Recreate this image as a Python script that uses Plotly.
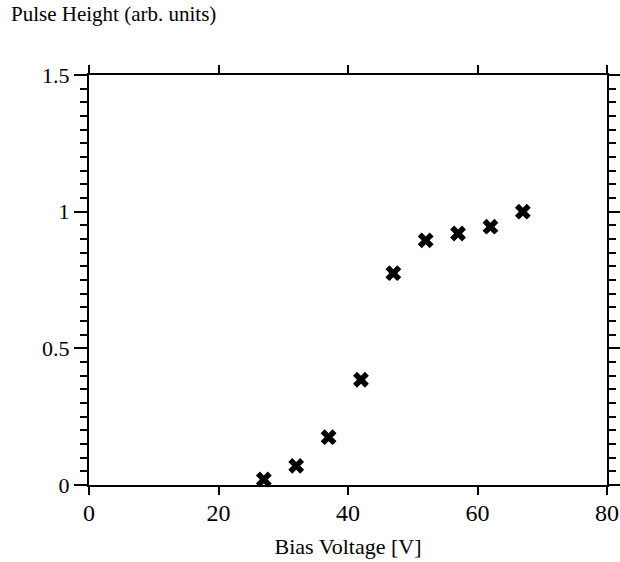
import plotly.graph_objects as go

# Bias voltage scan: pulse height vs applied bias
bias_voltage = [27, 32, 37, 42, 47, 52, 57, 62, 67]
pulse_height = [0.02, 0.07, 0.175, 0.385, 0.775, 0.895, 0.92, 0.945, 1.0]

x_ticks = [0, 20, 40, 60, 80]
y_ticks = [0, 0.5, 1, 1.5]
y_tick_labels = ["0", "0.5", "1", "1.5"]

font_family = "Liberation Serif, Times New Roman, serif"

fig = go.Figure()
fig.add_trace(go.Scatter(
    x=bias_voltage,
    y=pulse_height,
    mode="markers",
    marker=dict(symbol="x", size=14, color="black", line=dict(width=0)),
    showlegend=False,
    cliponaxis=False,
))

fig.update_layout(
    width=620,
    height=562,
    margin=dict(l=89, r=13, t=75, b=77),
    paper_bgcolor="white",
    plot_bgcolor="white",
    font=dict(family=font_family, size=20, color="black"),
)

fig.update_xaxes(
    range=[0, 80],
    tickvals=x_ticks,
    ticktext=[str(v) for v in x_ticks],
    automargin=False,
    showgrid=False,
    zeroline=False,
    showline=True,
    linecolor="black",
    linewidth=2,
    mirror="allticks",
    ticks="outside",
    ticklen=8,
    tickwidth=2,
    tickcolor="black",
    ticklabelstandoff=-3,
    tickfont=dict(family=font_family, size=24),
    title=dict(text="Bias Voltage [V]", font=dict(family=font_family, size=22), standoff=14),
)

fig.update_yaxes(
    range=[0, 1.5],
    tickvals=y_ticks,
    ticktext=y_tick_labels,
    automargin=False,
    showgrid=False,
    zeroline=False,
    showline=True,
    linecolor="black",
    linewidth=2,
    mirror="allticks",
    ticks="outside",
    ticklen=13,
    tickwidth=2,
    tickcolor="black",
    tickfont=dict(family=font_family, size=22),
    minor=dict(dtick=0.05, ticks="outside", ticklen=7, tickwidth=2, tickcolor="black", showgrid=False),
)

fig.add_annotation(
    text="Pulse Height (arb. units)",
    xref="paper", yref="paper",
    x=-80 / 518, y=1 + 61 / 410,
    xanchor="left", yanchor="middle",
    showarrow=False,
    font=dict(family=font_family, size=21, color="black"),
)

fig.write_html("out.html")
